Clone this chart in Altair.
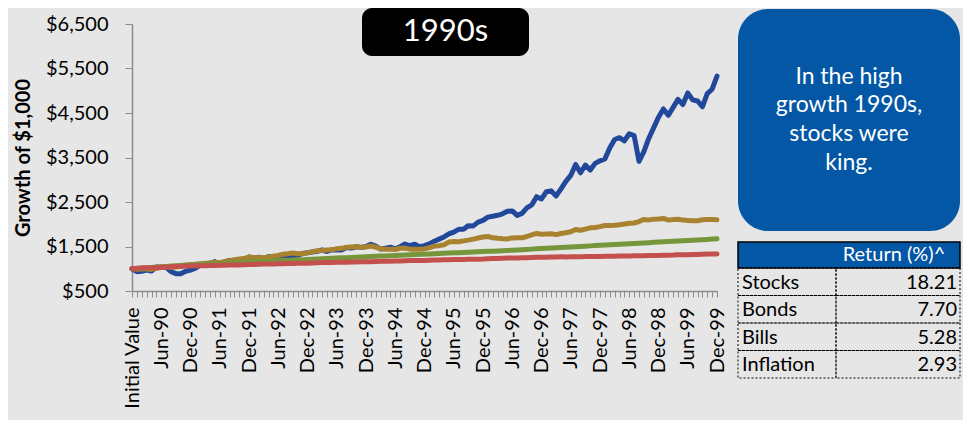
import altair as alt
import pandas as pd

# ---------------- data ----------------
months = ["Jan", "Feb", "Mar", "Apr", "May", "Jun", "Jul", "Aug", "Sep", "Oct", "Nov", "Dec"]
years = ["90", "91", "92", "93", "94", "95", "96", "97", "98", "99"]
periods = ["Initial Value"] + [f"{m}-{y}" for y in years for m in months]

stocks = [1000, 934, 945, 971, 948, 1038, 1032, 1030, 935, 890, 887, 943, 969,
          1012, 1083, 1110, 1113, 1160, 1107, 1160, 1186, 1166, 1184, 1134, 1264,
          1242, 1257, 1233, 1270, 1275, 1256, 1309, 1280, 1295, 1301, 1344, 1361,
          1374, 1391, 1421, 1388, 1422, 1427, 1422, 1475, 1464, 1495, 1480, 1498,
          1550, 1507, 1442, 1462, 1484, 1447, 1496, 1556, 1518, 1553, 1496, 1518,
          1558, 1617, 1665, 1715, 1782, 1824, 1885, 1889, 1969, 1963, 2048, 2088,
          2160, 2179, 2201, 2235, 2290, 2299, 2198, 2244, 2370, 2436, 2620, 2568,
          2730, 2750, 2637, 2795, 2964, 3097, 3344, 3157, 3330, 3219, 3368, 3426,
          3466, 3714, 3905, 3945, 3876, 4034, 3992, 3414, 3632, 3928, 4166, 4406,
          4591, 4448, 4625, 4806, 4690, 4951, 4796, 4771, 4640, 4935, 5034, 5331]

bonds = [1000, 990, 993, 994, 985, 1013, 1030, 1044, 1031, 1039, 1052, 1075, 1090,
         1104, 1113, 1121, 1134, 1141, 1140, 1156, 1181, 1205, 1217, 1229, 1264,
         1246, 1254, 1248, 1257, 1281, 1299, 1325, 1338, 1354, 1337, 1337, 1357,
         1383, 1407, 1413, 1423, 1425, 1451, 1459, 1484, 1488, 1494, 1481, 1490,
         1510, 1484, 1447, 1436, 1436, 1433, 1461, 1463, 1441, 1440, 1437, 1446,
         1475, 1510, 1519, 1540, 1599, 1611, 1608, 1627, 1643, 1665, 1690, 1714,
         1725, 1695, 1683, 1674, 1671, 1693, 1698, 1695, 1725, 1763, 1793, 1776,
         1782, 1786, 1767, 1793, 1810, 1832, 1881, 1865, 1892, 1920, 1928, 1947,
         1972, 1971, 1978, 1988, 2007, 2024, 2028, 2061, 2109, 2098, 2110, 2116,
         2131, 2093, 2105, 2111, 2093, 2086, 2077, 2076, 2100, 2108, 2108, 2099]

bills = [1000, 1008, 1015, 1023, 1030, 1038, 1045, 1053, 1060, 1068, 1075, 1083, 1090,
         1095, 1100, 1105, 1110, 1115, 1120, 1125, 1130, 1135, 1140, 1145, 1150,
         1155, 1160, 1165, 1170, 1175, 1180, 1185, 1190, 1195, 1200, 1205, 1210,
         1215, 1220, 1225, 1230, 1235, 1240, 1245, 1250, 1255, 1259, 1264, 1269,
         1274, 1279, 1284, 1289, 1293, 1298, 1303, 1308, 1313, 1318, 1323, 1328,
         1332, 1337, 1342, 1347, 1352, 1357, 1362, 1366, 1371, 1376, 1381, 1386,
         1391, 1396, 1400, 1405, 1411, 1417, 1423, 1429, 1435, 1441, 1447, 1454,
         1460, 1466, 1472, 1478, 1484, 1490, 1496, 1502, 1508, 1514, 1520, 1526,
         1532, 1539, 1545, 1551, 1557, 1563, 1569, 1575, 1581, 1587, 1593, 1599,
         1605, 1611, 1617, 1623, 1630, 1636, 1642, 1648, 1654, 1660, 1666, 1672]

inflation = [1000, 1010, 1015, 1020, 1022, 1025, 1031, 1035, 1044, 1052, 1058, 1060, 1061,
             1065, 1068, 1069, 1071, 1074, 1077, 1079, 1082, 1086, 1087, 1090, 1094,
             1095, 1099, 1104, 1106, 1107, 1110, 1113, 1116, 1119, 1123, 1124, 1126,
             1131, 1135, 1138, 1141, 1143, 1144, 1145, 1148, 1150, 1154, 1155, 1156,
             1159, 1163, 1167, 1168, 1169, 1173, 1176, 1180, 1183, 1184, 1185, 1187,
             1192, 1196, 1199, 1203, 1205, 1207, 1207, 1210, 1213, 1216, 1215, 1217,
             1224, 1228, 1233, 1237, 1239, 1240, 1243, 1245, 1249, 1253, 1256, 1257,
             1261, 1265, 1266, 1267, 1266, 1268, 1270, 1272, 1275, 1278, 1277, 1278,
             1280, 1281, 1283, 1285, 1287, 1289, 1290, 1292, 1293, 1296, 1296, 1299,
             1301, 1303, 1307, 1316, 1316, 1317, 1320, 1323, 1328, 1330, 1331, 1334]

series_names = ["Stocks", "Bonds", "Bills", "Inflation"]
series_colors = ["#21489a", "#a8822e", "#77963b", "#c4504d"]
returns = ["18.21", "7.70", "5.28", "2.93"]
y_ticks = [500, 1500, 2500, 3500, 4500, 5500, 6500]
title_text = "1990s"
box_lines = ["In the high", "growth 1990s,", "stocks were", "king."]
table_header = "Return (%)^"

rows = []
for name, vals in zip(series_names, [stocks, bonds, bills, inflation]):
    for p, v in zip(periods, vals):
        rows.append({"period": p, "series": name, "value": v})
df = pd.DataFrame(rows)

# ---------------- layout ----------------
W, H = 585, 267
FONT = "Lato"
BLUE = "#0457a5"

x_enc = alt.X(
    "period:N", sort=periods,
    scale=alt.Scale(type="point", padding=0),
    axis=alt.Axis(
        title=None, labelAngle=-90, labelOverlap=False,
        labelExpr="indexof(['Ini','Jun','Dec'], slice(datum.label, 0, 3)) >= 0 ? datum.label : ''",
        tickSize=6, labelPadding=10, labelFontSize=20, labelFont=FONT, labelColor="#000000",
        domainColor="#8c8c8c", tickColor="#8c8c8c", domainWidth=1.5, tickWidth=1,
    ),
)
y_enc = alt.Y(
    "value:Q",
    scale=alt.Scale(domain=[500, 6500], nice=False, zero=False),
    axis=alt.Axis(
        values=y_ticks, format="$,.0f", grid=False,
        title="Growth of $1,000", titleFont=FONT, titleFontSize=20, titleFontWeight="bold",
        titleColor="#000000", titleAngle=-90, titleX=-109, titleY=H / 2,
        titleAlign="center", titleBaseline="middle",
        tickSize=7, labelPadding=17, labelFontSize=20, labelFont=FONT, labelColor="#000000",
        domainColor="#8c8c8c", tickColor="#8c8c8c", domainWidth=1.5,
    ),
)

layers = []
for name, col in zip(series_names, series_colors):
    layers.append(
        alt.Chart(df).transform_filter(alt.datum.series == name)
        .mark_line(strokeWidth=5, strokeCap="round", strokeJoin="round", color=col)
        .encode(x=x_enc, y=y_enc)
    )

anno = pd.DataFrame({"k": [0]})

def rect(x1, x2, y1, y2, **kw):
    return alt.Chart(anno).mark_rect(**kw).encode(
        x=alt.value(x1), x2=alt.value(x2), y=alt.value(y1), y2=alt.value(y2))

def text(x, y, t, **kw):
    return alt.Chart(anno).mark_text(font=FONT, **kw).encode(
        x=alt.value(x), y=alt.value(y), text=alt.value(t))

# title box
layers.append(rect(230, 397, -16, 32, color="#000000", cornerRadius=10))
layers.append(text(313.5, 16.5, title_text, fontSize=31, color="white", align="center", baseline="alphabetic"))

# blue comment box
layers.append(rect(606, 828, -15, 207, color=BLUE, cornerRadius=30))
for i, ln in enumerate(box_lines):
    layers.append(text(717, 59.5 + i * 28.7, ln, fontSize=23, color="white", align="center", baseline="alphabetic"))

# table
layers.append(rect(606, 828, 218, 244, fill=BLUE, stroke="#000000", strokeWidth=1.5))
layers.append(text(762, 231, table_header, fontSize=20, color="white", align="center", baseline="middle"))
row_h = 27.5
for i, (name, r) in enumerate(zip(series_names, returns)):
    y0 = 244 + i * row_h
    layers.append(rect(606, 704, y0, y0 + row_h, fillOpacity=0, stroke="#000000", strokeWidth=1, strokeDash=[2, 2]))
    layers.append(rect(704, 828, y0, y0 + row_h, fillOpacity=0, stroke="#000000", strokeWidth=1, strokeDash=[2, 2]))
    layers.append(text(610, y0 + row_h / 2 + 1, name, fontSize=20, color="#000000", align="left", baseline="middle"))
    layers.append(text(825, y0 + row_h / 2 + 1, r, fontSize=20, color="#000000", align="right", baseline="middle"))

chart = alt.layer(*layers).properties(
    width=W, height=H,
    background="#e6e6e6",
    padding={"left": 124, "top": 16, "right": 246, "bottom": 129},
    autosize=alt.AutoSizeParams(type="none"),
).configure_view(stroke=None)

chart.save("out.html", embed_options={"renderer": "svg", "actions": False})
